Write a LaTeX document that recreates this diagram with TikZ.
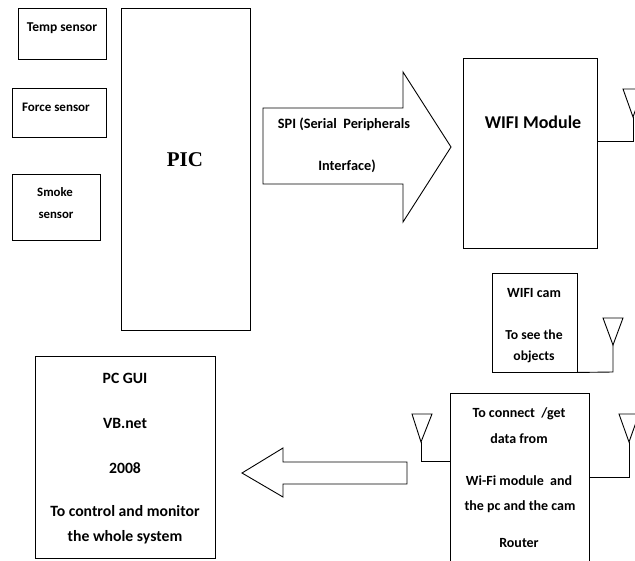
\documentclass[tikz,border=0pt]{standalone}
\usepackage{fontspec}
\setmainfont{Carlito}
\newfontfamily\picfont{Liberation Serif}
\begin{document}
\begin{tikzpicture}[x=1pt,y=-1pt,
  box/.style={draw,line width=0.9pt,inner sep=0pt},
  lbl/.style={font=\bfseries\fontsize{13}{15}\selectfont,inner sep=0pt,anchor=center},
  lblm/.style={font=\bfseries\fontsize{14}{16}\selectfont,inner sep=0pt,anchor=center},
  lbll/.style={font=\bfseries\fontsize{15.7}{18}\selectfont,inner sep=0pt,anchor=center},
  big/.style={font=\bfseries\fontsize{18}{21}\selectfont,inner sep=0pt},
  ln/.style={line width=0.9pt},
  fatarrow/.style={draw,line width=0.9pt,line join=miter}]
\useasboundingbox (0,0) rectangle (635,560);
\fill[white] (0,0) rectangle (635,560);
% sensors
\node[box,minimum width=88pt,minimum height=51pt] (temp) at (62,33.5) {};
\node[lbl,font=\bfseries\fontsize{13.5}{15}\selectfont] (tempt) at (62,28) {Temp sensor};
\node[box,minimum width=94pt,minimum height=49pt] (force) at (59,112.5) {};
\node[lbl] (forcet) at (56,107) {Force sensor};
\node[box,minimum width=88pt,minimum height=66pt] (smoke) at (56,207) {};
\node[lbl,font=\bfseries\fontsize{12.8}{15}\selectfont] (smoket1) at (55,192) {Smoke};
\node[lbl,font=\bfseries\fontsize{12.8}{15}\selectfont] (smoket2) at (56,215) {sensor};
% PIC
\node[box,minimum width=129pt,minimum height=322pt] (pic) at (185.5,169) {};
\node[font=\picfont\bfseries\fontsize{21}{25}\selectfont,inner sep=0pt] (pict) at (185,160) {PIC};
% SPI arrow
\draw[fatarrow] (263,108) -- (403,108) -- (403,72) -- (451,147) -- (403,222) -- (403,184) -- (263,184) -- cycle;
\node[lblm,font=\bfseries\fontsize{14.3}{16}\selectfont] (spi1) at (344,124) {SPI (Serial\ \ Peripherals};
\node[lblm,font=\bfseries\fontsize{14.3}{16}\selectfont] (spi2) at (347,166) {Interface)};
% WIFI module
\node[box,minimum width=134pt,minimum height=190pt] (wifi) at (530,153) {};
\node[big] (wifit) at (533,122) {WIFI Module};
\coordinate (a1b) at (633,141);
\coordinate (a1t) at (633,117);
\draw[ln] (wifi.east |- a1b) -- (a1b) -- (a1t);
\draw[ln] (a1t) -- (623,89) -- (643,89) -- cycle;
% WIFI cam
\node[box,minimum width=85pt,minimum height=99pt] (cam) at (534.5,322.5) {};
\node[lblm] (camt1) at (534,293) {WIFI cam};
\node[lblm,font=\bfseries\fontsize{13.7}{16}\selectfont] (camt2) at (534,335) {To see the};
\node[lblm,font=\bfseries\fontsize{13.7}{16}\selectfont] (camt3) at (534,357) {objects};
\coordinate (a2b) at (613,372);
\coordinate (a2t) at (613,345);
\draw[ln] (cam.south east) -- (a2b) -- (a2t);
\draw[ln] (a2t) -- (603,318) -- (623,318) -- cycle;
% Router
\coordinate (rtl) at (450,393);
\coordinate (rtr) at (589,393);
\draw[ln] (450,562) -- (rtl) -- (rtr) -- (589,562);
\node[lblm] (r1) at (519,414) {To connect\ \ /get};
\node[lblm] (r2) at (519,439) {data from};
\node[lblm] (r3) at (519,481) {Wi-Fi module\ \ and};
\node[lblm] (r4) at (520,507) {the pc and the cam};
\node[lblm] (r5) at (519,543) {Router};
\coordinate (a3b) at (421,461);
\coordinate (a3t) at (421,442);
\draw[ln] (450,461) -- (a3b) -- (a3t);
\draw[ln] (a3t) -- (412,414) -- (432,414) -- cycle;
\coordinate (a4b) at (629,477);
\coordinate (a4t) at (629,442);
\draw[ln] (589,477) -- (a4b) -- (a4t);
\draw[ln] (a4t) -- (619,414) -- (639,414) -- cycle;
% PC GUI
\node[box,minimum width=180pt,minimum height=202pt] (pc) at (125,457) {};
\node[lbll] (p1) at (125,378) {PC GUI};
\node[lbll] (p2) at (125,423) {VB.net};
\node[lbll] (p3) at (125,468) {2008};
\node[lbll] (p4) at (125,511) {To control and monitor};
\node[lbll] (p5) at (125,537) {the whole system};
% left arrow
\draw[fatarrow] (407,462) -- (283,462) -- (283,448) -- (242,473) -- (283,497) -- (283,484) -- (407,484) -- cycle;
\end{tikzpicture}
\end{document}
